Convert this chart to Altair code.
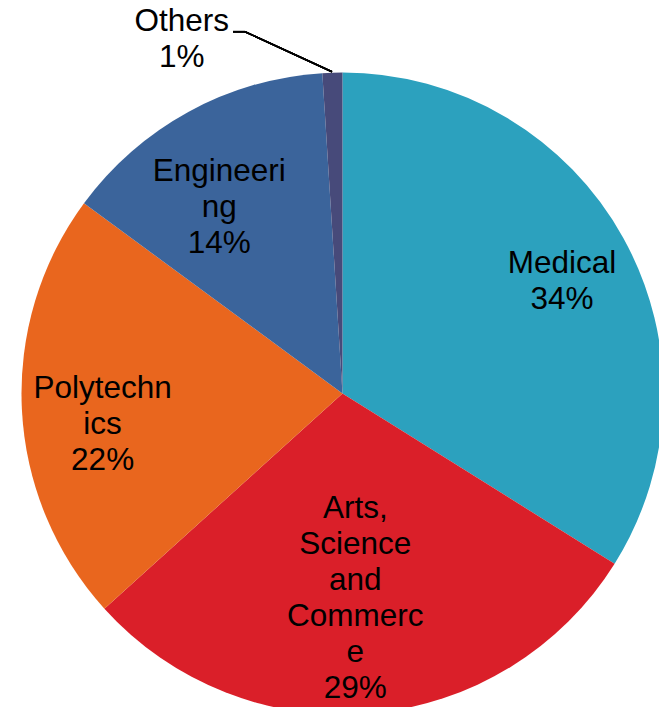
import altair as alt
import pandas as pd

# ---- data ----
categories = ["Medical", "Arts, Science and Commerce", "Polytechnics", "Engineering", "Others"]
wrapped_names = ["Medical", "Arts,\nScience\nand\nCommerc\ne", "Polytechn\nics", "Engineeri\nng", "Others"]
shares = [33.9, 29.4, 21.8, 13.9, 1.0]
colors = ["#2CA1BE", "#DA1F29", "#E9661E", "#3B649B", "#474A7A"]

labels = [f"{n}\n{round(v)}%" for n, v in zip(wrapped_names, shares)]
df = pd.DataFrame({
    "category": categories,
    "label": labels,
    "share": shares,
    "order": list(range(len(categories))),
})

W, H = 651, 699
CX, CY = 334.5, 385.5
R = 321
FONT = "Liberation Sans"
FS = 31.5
LH = 36

base = alt.Chart(df).encode(
    theta=alt.Theta("share:Q", stack=True),
    order=alt.Order("order:Q"),
    x=alt.value(CX),
    y=alt.value(CY),
)

pie = base.mark_arc(radius=R).encode(
    color=alt.Color("category:N", scale=alt.Scale(domain=categories, range=colors), legend=None)
)

# label placement (radius, theta offset in radians) mimicking Excel best-fit
placement = {
    "Medical": (246, 0.037),
    "Arts, Science and Commerce": (206, 0.026),
    "Polytechnics": (242, -0.082),
    "Engineering": (223, -0.086),
    "Others": (388, -0.396),
}

layers = [pie]
for cat, lab in zip(categories, labels):
    rad, toff = placement[cat]
    n_lines = lab.count("\n") + 1
    layers.append(
        base.mark_text(
            radius=rad, thetaOffset=toff, font=FONT, fontSize=FS, lineBreak="\n",
            lineHeight=LH, align="center", baseline="middle", color="black",
            dy=-(n_lines - 1) * LH / 2,
        ).encode(
            text=alt.condition(f"datum.category == '{cat}'", "label:N", alt.value(""))
        )
    )

# leader line for the "Others" label
leader1 = alt.Chart(df).mark_rule(color="black", strokeWidth=1.5).encode(
    x=alt.value(225), x2=alt.value(237), y=alt.value(23.7), y2=alt.value(23.7)
)
leader2 = alt.Chart(df).mark_rule(color="black", strokeWidth=1.5).encode(
    x=alt.value(237), x2=alt.value(324), y=alt.value(23.7), y2=alt.value(63.7)
)
layers += [leader1, leader2]

chart = alt.layer(*layers).properties(
    width=W, height=H, padding=0,
    autosize=alt.AutoSizeParams(type="none"),
    background="white",
).configure_view(stroke=None)

chart.save("out.html", embed_options={"renderer": "svg", "actions": False})
